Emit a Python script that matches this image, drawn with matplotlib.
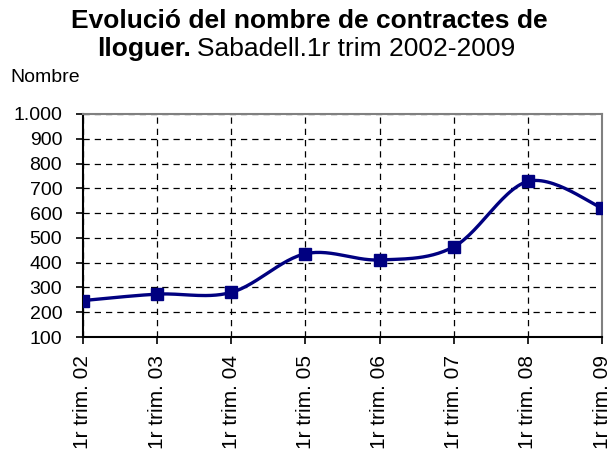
import numpy as np
import matplotlib.pyplot as plt

plt.rcParams['font.family'] = ['Liberation Sans', 'DejaVu Sans']

labels = ['1r trim. 02', '1r trim. 03', '1r trim. 04', '1r trim. 05',
          '1r trim. 06', '1r trim. 07', '1r trim. 08', '1r trim. 09']
contractes = [247, 273, 280, 436, 411, 464, 728, 621]
yticks = [100, 200, 300, 400, 500, 600, 700, 800, 900, 1000]
ytick_labels = ['100', '200', '300', '400', '500', '600', '700', '800', '900', '1.000']

navy = '#000080'


def smooth(x, y, n=30):
    # Excel-like smoothed line: cubic Bezier segments, Catmull-Rom controls
    x = np.asarray(x, float)
    y = np.asarray(y, float)
    xs, ys = [], []
    for i in range(len(x) - 1):
        p0 = np.array([x[max(i - 1, 0)], y[max(i - 1, 0)]])
        p1 = np.array([x[i], y[i]])
        p2 = np.array([x[i + 1], y[i + 1]])
        p3 = np.array([x[min(i + 2, len(x) - 1)], y[min(i + 2, len(x) - 1)]])
        c1 = p1 + (p2 - p0) / 6
        c2 = p2 - (p3 - p1) / 6
        t = np.linspace(0, 1, n)[:, None]
        pts = ((1 - t) ** 3) * p1 + 3 * ((1 - t) ** 2) * t * c1 + 3 * (1 - t) * t ** 2 * c2 + t ** 3 * p2
        xs.extend(pts[:, 0])
        ys.extend(pts[:, 1])
    return xs, ys


W, H = 611, 451
fig = plt.figure(figsize=(W / 100, H / 100), dpi=100)
ax = fig.add_axes([83 / W, 1 - 337 / H, (602 - 83) / W, (337 - 114) / H])

x = np.arange(len(labels))
sx, sy = smooth(x, contractes)
ax.plot(sx, sy, color=navy, lw=2.4, zorder=3)
ax.plot(x, contractes, ls='none', marker='s', ms=8, color=navy, zorder=4)

ax.set_xlim(0, len(labels) - 1)
ax.set_ylim(100, 1000)
ax.set_yticks(yticks)
ax.set_yticklabels(ytick_labels, fontsize=14)
ax.set_xticks(x)
ax.set_xticklabels(labels, rotation=90, fontsize=15)
ax.tick_params(axis='both', direction='out', length=5, width=1.2, color='black')
ax.tick_params(axis='y', pad=10)
ax.tick_params(axis='x', pad=8)

ax.grid(True, color='black', ls=(0, (5, 4)), lw=0.9)
for s in ['top', 'right']:
    ax.spines[s].set_color('#808080')
    ax.spines[s].set_linewidth(1.5)
for s in ['left', 'bottom']:
    ax.spines[s].set_color('black')
    ax.spines[s].set_linewidth(1.5)

fig.text(309 / W, 1 - 28 / H, 'Evolució del nombre de contractes de', ha='center', va='baseline',
         fontsize=19, fontweight='bold')
t1 = fig.text(97 / W, 1 - 56 / H, 'lloguer.', ha='left', va='baseline', fontsize=19, fontweight='bold')
fig.canvas.draw()
bb = t1.get_window_extent()
fig.text(bb.x1 / W + 0.01, 1 - 56 / H, 'Sabadell.1r trim 2002-2009', ha='left',
         va='baseline', fontsize=19)
fig.text(10 / W, 1 - 82 / H, 'Nombre', ha='left', va='baseline', fontsize=14)

fig.savefig('out.png', dpi=100)
